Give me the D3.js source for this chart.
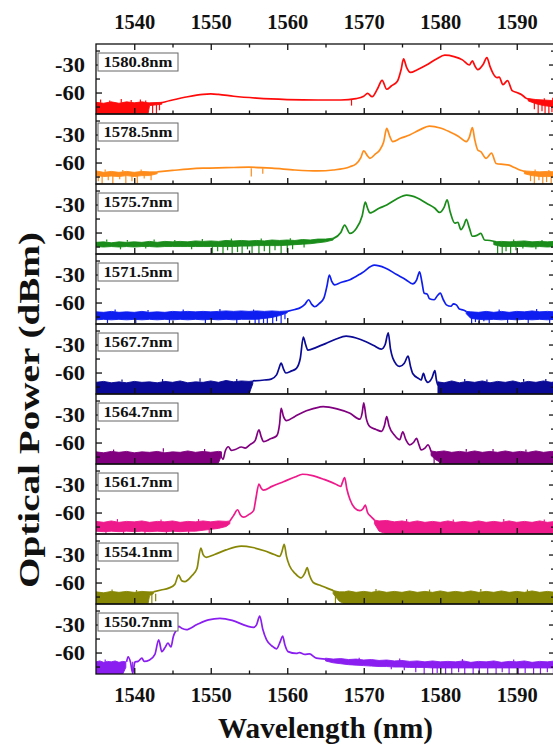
<!DOCTYPE html>
<html>
<head>
<meta charset="utf-8">
<script src="https://cdn.jsdelivr.net/npm/d3@7"></script>
<style>
  body { margin: 0; background: #fff; }
  svg { display: block; }
  text { font-family: "Liberation Serif", "Times New Roman", serif; font-weight: bold; fill: #111; }
</style>
</head>
<body>
<svg id="chart" width="553" height="746"></svg>
<script>
// Spectra per panel: smooth trace [nm, dBm], noise-floor bands [nm, upper dBm, lower dBm],
// and noise spikes drawn as thin strokes [nm, from dBm, to dBm].

const panelLabels = ["1580.8nm", "1578.5nm", "1575.7nm", "1571.5nm", "1567.7nm", "1564.7nm", "1561.7nm", "1554.1nm", "1550.7nm"];
const panelColors = ["#ff0a0a", "#ff8c1a", "#198c19", "#0f1ef0", "#0a0a96", "#800080", "#ee1a8c", "#878705", "#8a1ef0"];

const xMajorTicks = [1540, 1550, 1560, 1570, 1580, 1590];
const xMinorTicks = [1545, 1555, 1565, 1575, 1585];
const yMajorTicks = [-30, -60];
const yMinorTicks = [-15, -45, -75];

// 1580.8 nm
const trace1 = [[1543.5,-71],[1545,-68],[1547,-64.5],[1549,-62],[1550,-61.5],[1551,-62],[1553,-64],[1556,-66],[1560,-67.5],[1564,-68],[1567,-68],[1569,-66.5],[1570,-64],[1570.5,-61],[1571.1,-64.5],[1571.8,-56],[1572.4,-47],[1573,-56.5],[1573.6,-53],[1574.4,-48],[1574.9,-35],[1575.2,-24],[1575.6,-33],[1576.1,-38.5],[1577,-35.5],[1578.2,-30.5],[1579.5,-24],[1580.6,-20],[1581.8,-21.5],[1582.9,-25],[1583.8,-30.5],[1584.2,-26],[1584.5,-31],[1584.9,-35.5],[1585.6,-30],[1586.1,-22.5],[1586.5,-32],[1586.9,-39.5],[1587.4,-44],[1587.7,-43.5],[1588.2,-51.5],[1588.8,-47.3],[1589.4,-58],[1590,-60],[1590.6,-62],[1591.2,-66],[1592,-68]];
const noise1 = [
  [[1535,-70.5,-83],[1536,-71.5,-83],[1537,-70,-83],[1538,-71.5,-83],[1539,-70,-83],[1540,-71,-83],[1541,-70,-83],[1541.8,-71,-83],[1542,-71,-74],[1543.6,-70.5,-72.5]],
  [[1591.5,-66.5,-69],[1592.5,-67.5,-72],[1593.5,-68,-74],[1594.5,-68.5,-75],[1595,-68,-75]]
];
const spikes1 = [[1542.4,-73,-82],[1542.9,-73,-83],[1543.3,-72,-79],[1568.4,-68,-74],[1592.3,-71,-78],[1592.8,-71,-83],[1593.3,-73,-80],[1593.7,-73,-83],[1594.2,-74,-83],[1594.6,-74,-81],[1594.9,-74,-83],
  [1535.6,-71,-67.5],[1536.8,-71,-68.5],[1538.3,-71,-67],[1539.6,-71,-68],[1540.8,-71,-67.5],[1541.5,-71,-68.5],[1593.6,-69,-66],[1594.7,-69,-65.5]];

// 1578.5 nm
const trace2 = [[1543,-70],[1545,-68.5],[1547,-67],[1549,-66],[1552,-65.5],[1555,-65],[1558,-66],[1561,-68],[1564,-69],[1566,-68],[1568.2,-64.5],[1569,-61.5],[1569.6,-55],[1570,-47.5],[1570.5,-53],[1570.8,-55.5],[1571.5,-51],[1572.1,-46.5],[1572.6,-38],[1573,-23.5],[1573.4,-32],[1573.8,-37.5],[1574.8,-34],[1576,-30.5],[1577.3,-25],[1578.6,-21],[1580,-23],[1581.2,-27],[1582.4,-32],[1583.4,-37.5],[1583.8,-33],[1584.2,-22.5],[1584.5,-35],[1584.9,-46.5],[1585.3,-48.4],[1586,-55.5],[1586.7,-50],[1587.3,-61],[1588.2,-62],[1589,-62.7],[1589.6,-65],[1590.4,-68],[1591.2,-70]];
const noise2 = [
  [[1535,-69,-74],[1536,-70.5,-75],[1537,-69.5,-74.5],[1538,-70.5,-75],[1539,-69.5,-74],[1540,-70.5,-75],[1541,-69.5,-74],[1542,-70,-74],[1543,-70,-72]],
  [[1591,-69,-72],[1592,-69.5,-74],[1593,-70,-75],[1594,-69.5,-75],[1595,-70,-75]]
];
const spikes2 = [[1535.3,-73,-80],[1535.8,-73,-83],[1536.6,-73,-79],[1537.2,-73,-83],[1538.1,-73,-78],[1538.9,-73,-82],[1539.7,-73,-80],[1540.4,-73,-83],[1541.3,-73,-77],[1542.2,-73,-79],[1555.3,-66,-75],[1556.8,-66,-72],[1591.8,-73,-80],[1592.3,-73,-83],[1592.9,-73,-79],[1593.4,-73,-83],[1593.9,-73,-81],[1594.5,-73,-83],
  [1536.2,-70,-67.5],[1538.5,-70,-68],[1540.9,-70,-67.5],[1592.4,-70,-67.5],[1594.2,-70,-68]];

// 1575.7 nm
const trace3 = [[1566,-66.5],[1567,-60],[1567.5,-52],[1568.2,-61],[1569,-56],[1569.8,-42],[1570.2,-27.5],[1570.5,-34],[1570.8,-39],[1572,-34],[1573,-30.5],[1574.3,-24],[1575.6,-20],[1577,-23],[1578.2,-28.7],[1579.3,-34],[1579.9,-38.5],[1580.5,-33],[1580.9,-25],[1581.3,-38],[1581.9,-50],[1582.3,-49],[1582.7,-57],[1583.1,-52],[1583.4,-46],[1583.8,-55],[1584.2,-64],[1584.8,-63],[1585.3,-61],[1585.8,-68],[1586.5,-68.5],[1587.3,-70]];
const noise3 = [
  [[1535,-70.5,-75],[1536,-70,-75.5],[1537,-71,-75],[1538,-70,-75.5],[1539,-70.5,-75],[1540,-70,-75.5],[1541,-70.5,-75],[1542,-69.5,-75],[1543,-70.5,-75.5],[1544,-69.5,-75],[1545,-70,-75],[1546,-69.5,-75],[1547,-70,-75],[1548,-69,-75],[1549,-69.5,-75],[1550,-69,-75],[1551,-69.5,-75],[1552,-68.5,-75],[1553,-69,-75],[1554,-68.5,-74.5],[1555,-69,-74.5],[1556,-68.5,-74],[1557,-69,-74],[1558,-68,-74],[1559,-68.5,-74],[1560,-68,-73.5],[1561,-68.5,-73],[1562,-67.5,-72.5],[1563,-68,-72],[1564,-67,-71],[1565,-67,-70],[1566,-66,-68]],
  [[1587,-70,-73],[1588,-69.5,-75],[1589,-70,-75],[1590,-69.5,-75],[1591,-69,-75],[1592,-70,-75.5],[1593,-69.5,-75],[1594,-70,-75.5],[1595,-69.5,-75]]
];
const spikes3 = [[1538.2,-74,-78],[1541.5,-74,-77],[1547.5,-74,-78],[1550.2,-74,-82],[1550.9,-74,-80],[1551.6,-74,-83],[1552.2,-74,-79],[1552.8,-74,-83],[1553.5,-74,-81],[1554.1,-74,-83],[1554.8,-74,-78],[1555.4,-74,-82],[1556.3,-73,-83],[1557,-73,-80],[1557.7,-73,-83],[1558.4,-73,-79],[1559.2,-73,-83],[1560,-73,-81],[1560.7,-72,-78],[1562.2,-72,-76],[1587.5,-74,-83],[1588.1,-74,-83],[1588.6,-74,-80],[1589.2,-74,-83],[1589.9,-74,-79],[1590.8,-74,-77],[1592.5,-74,-78],
  [1536.4,-70,-67.5],[1539.1,-70,-68],[1542.6,-70,-67.5],[1545.3,-70,-68],[1548.9,-69.5,-67],[1552.7,-69,-66.5],[1556.6,-69,-66.5],[1560.4,-68.5,-66],[1589.6,-70,-67.5],[1593.3,-70,-68]];

// 1571.5 nm
const trace4 = [[1560,-69.5],[1561,-67.5],[1561.6,-66],[1562.3,-62],[1562.8,-57],[1563.2,-62],[1563.6,-64.5],[1564.2,-61],[1564.8,-55],[1565.2,-42],[1565.5,-30.5],[1565.8,-37],[1566.2,-41],[1567,-38.5],[1568.2,-35.5],[1569.8,-28],[1571.4,-20],[1572.8,-23],[1574.3,-30],[1575.5,-35.5],[1576.4,-40],[1576.9,-36],[1577.3,-27],[1577.6,-38],[1577.9,-50],[1578.3,-51],[1578.6,-56],[1579.2,-57],[1579.6,-53],[1580,-50],[1580.4,-57],[1580.8,-62.5],[1581.4,-64],[1581.7,-61.5],[1582.1,-62.5],[1582.5,-67],[1583,-68],[1583.4,-69.5]];
const noise4 = [
  [[1535,-70,-78.5],[1536,-70.5,-78],[1537,-69.5,-78.5],[1538,-70.5,-78],[1539,-70,-78.5],[1540,-70.5,-78],[1541,-69.5,-78.5],[1542,-70.5,-78],[1543,-70,-78.5],[1544,-70.5,-78],[1545,-69.5,-78.5],[1546,-70,-78],[1547,-69.5,-78.5],[1548,-70,-78],[1549,-69.5,-78.5],[1550,-70,-78],[1551,-69.5,-78.5],[1552,-69,-78],[1553,-69.5,-78.5],[1554,-69,-78],[1555,-69.5,-78],[1556,-69,-78],[1557,-69.5,-77],[1558,-69,-76],[1559,-69.5,-74],[1560,-69,-71]],
  [[1583.4,-69.5,-72],[1584,-70,-77],[1585,-70.5,-78],[1586,-69.5,-78.5],[1587,-70.5,-78],[1588,-69.5,-78.5],[1589,-70.5,-78],[1590,-69.5,-78.5],[1591,-70,-78],[1592,-69,-78.5],[1593,-70,-78],[1594,-69.5,-78.5],[1595,-70,-78]]
];
const spikes4 = [[1536.5,-77,-82],[1540.2,-77,-82],[1544.6,-77,-82],[1549.3,-77,-82],[1553.4,-77,-83],[1555.8,-77,-83],[1556.3,-77,-83],[1556.9,-76,-82],[1557.4,-76,-83],[1558.1,-75,-83],[1558.6,-74,-80],[1559.2,-73,-83],[1559.7,-72,-78],[1584.1,-76,-83],[1584.6,-76,-81],[1585.1,-77,-83],[1585.7,-77,-80],[1586.4,-77,-82],[1588.8,-77,-82],[1591.5,-77,-82],[1594.3,-77,-82],
  [1537.5,-70,-67.5],[1541.8,-70,-68],[1546.4,-70,-67.5],[1551.2,-69.5,-67],[1555.6,-69.5,-67.5],[1587.7,-70,-67.5],[1592.6,-69.5,-67]];

// 1567.7 nm
const trace5 = [[1555.5,-69],[1557,-68],[1557.9,-67],[1558.6,-62.5],[1558.9,-56],[1559.2,-50],[1559.5,-56],[1559.8,-60.5],[1560.5,-58.5],[1561.2,-55.5],[1561.7,-45],[1562.1,-22],[1562.4,-30],[1562.7,-36],[1563.8,-33],[1565.1,-28.7],[1566.4,-24],[1567.7,-21],[1569,-23],[1570.3,-27],[1571.3,-31],[1572.3,-35],[1572.8,-30],[1573.2,-17.5],[1573.5,-35],[1573.8,-44.5],[1574.7,-53.5],[1575.3,-50],[1575.8,-42.5],[1576.1,-53],[1576.4,-61],[1577.2,-66.5],[1577.5,-68],[1577.8,-61],[1578.1,-68],[1578.4,-70.5],[1578.9,-66],[1579.3,-58],[1579.5,-68],[1579.7,-74]];
const noise5 = [
  [[1535,-70.5,-83],[1536,-69.5,-83],[1537,-71,-83],[1538,-70,-83],[1539,-71,-83],[1540,-69.5,-83],[1541,-70.5,-83],[1542,-70,-83],[1543,-71,-83],[1544,-69.5,-83],[1545,-70.5,-83],[1546,-69,-83],[1547,-71,-83],[1548,-70,-83],[1549,-70.5,-83],[1550,-69,-83],[1551,-70.5,-83],[1552,-68.5,-83],[1553,-70,-83],[1554,-69,-83],[1555,-69.5,-83],[1555.5,-69,-72]],
  [[1579.7,-70,-83],[1580.5,-71,-83],[1581.5,-69,-83],[1582.5,-71,-83],[1583.5,-69.5,-83],[1584.5,-70.5,-83],[1585.5,-69,-83],[1586.5,-71,-83],[1587.5,-69.5,-83],[1588.5,-70.5,-83],[1589.5,-69,-83],[1590.5,-71,-83],[1591.5,-69.5,-83],[1592.5,-70.5,-83],[1593.5,-69,-83],[1594.5,-70.5,-83],[1595,-70,-83]]
];
const spikes5 = [[1548.6,-70,-66],[1553.4,-70,-67],[1583.2,-70,-67],[1590.9,-70,-67],[1538.4,-70,-67.5],[1543.7,-70,-67],[1586.1,-70,-67.5],[1593.8,-70,-67]];

// 1564.7 nm
const trace6 = [[1551.2,-70],[1551.6,-78],[1551.9,-69],[1552.3,-64.5],[1552.7,-68.5],[1553.2,-67.5],[1554,-64.8],[1554.5,-66],[1555.1,-62.5],[1555.8,-58],[1556.3,-46.5],[1556.6,-54],[1556.9,-59],[1557.8,-56],[1558.6,-53],[1559,-40],[1559.2,-23.3],[1559.5,-32],[1559.9,-36.5],[1561,-32],[1562.5,-26],[1564.2,-22],[1564.7,-21.5],[1566.5,-24],[1568.2,-28.7],[1569.5,-35],[1569.8,-28],[1570,-17.5],[1570.3,-33],[1570.8,-43],[1571.6,-46],[1572.3,-48],[1572.7,-42],[1573,-32.3],[1573.3,-42],[1574,-52],[1574.7,-57],[1575.1,-48.5],[1575.5,-57],[1576,-62.5],[1576.5,-60],[1576.9,-55.5],[1577.2,-62],[1577.5,-68],[1578,-66],[1578.4,-62.5],[1578.8,-69.5]];
const noise6 = [
  [[1535,-70,-83],[1536,-71,-83],[1537,-69.5,-83],[1538,-70.5,-83],[1539,-69.5,-83],[1540,-71,-83],[1541,-70,-83],[1542,-70.5,-83],[1543,-69.5,-83],[1544,-71,-83],[1545,-70,-83],[1546,-70.5,-83],[1547,-69,-83],[1548,-70.5,-83],[1549,-69.5,-83],[1550,-70.5,-83],[1551,-69.5,-82],[1551.4,-70,-74]],
  [[1578.8,-69,-74],[1579.5,-70,-79],[1580.5,-69,-83],[1581.5,-70.5,-83],[1582.5,-69.5,-83],[1583.5,-70.5,-83],[1584.5,-69,-83],[1585.5,-70.5,-83],[1586.5,-69.5,-83],[1587.5,-70.5,-83],[1588.5,-69,-83],[1589.5,-70.5,-83],[1590.5,-69.5,-83],[1591.5,-70.5,-83],[1592.5,-69,-83],[1593.5,-70.5,-83],[1594.5,-69.5,-83],[1595,-70,-83]]
];
const spikes6 = [[1579.2,-74,-83],[1579.9,-76,-83],[1543.8,-70,-66],[1549.2,-70,-67],[1586.9,-70,-67],[1537.3,-70,-67.5],[1583.4,-70,-67],[1591.2,-70,-67.5]];

// 1561.7 nm
const trace7 = [[1552.5,-69],[1553,-63],[1553.5,-57],[1553.9,-63],[1554.3,-65],[1555,-62],[1555.6,-58],[1555.9,-45],[1556.3,-29.5],[1556.6,-34],[1556.9,-36],[1558,-32],[1559.5,-27],[1561,-22],[1562,-19],[1563.3,-20.5],[1564.8,-24.5],[1566.3,-29.5],[1567,-32],[1567.2,-28],[1567.5,-22.5],[1567.8,-35],[1568.2,-46],[1568.8,-55],[1569.5,-58],[1569.9,-56],[1570.2,-52],[1570.5,-60],[1570.9,-64],[1571.4,-68]];
const noise7 = [
  [[1535,-69.5,-80],[1536,-70.5,-80.5],[1537,-69,-80],[1538,-70.5,-80.5],[1539,-69.5,-80],[1540,-70,-80.5],[1541,-69,-80],[1542,-70.5,-80.5],[1543,-69.5,-80],[1544,-70,-80.5],[1545,-69,-80],[1546,-70.5,-80.5],[1547,-69.5,-80],[1548,-70,-80],[1549,-69,-79],[1550,-70,-78],[1551,-69,-77],[1552,-69.5,-75],[1552.5,-69,-72]],
  [[1571.4,-68,-72],[1572,-69,-80],[1573,-68.5,-83],[1574,-70,-83],[1575,-69,-83],[1576,-70.5,-83],[1577,-69,-83],[1578,-70.5,-83],[1579,-69.5,-83],[1580,-70.5,-83],[1581,-69,-83],[1582,-70.5,-83],[1583,-69.5,-83],[1584,-70.5,-83],[1585,-69,-83],[1586,-70.5,-83],[1587,-69.5,-83],[1588,-70.5,-83],[1589,-69,-83],[1590,-70.5,-83],[1591,-69.5,-83],[1592,-70.5,-83],[1593,-69,-83],[1594,-70.5,-83],[1595,-69.5,-83]]
];
const spikes7 = [[1536.3,-79,-83],[1538.6,-79,-83],[1541.4,-79,-83],[1544.2,-79,-83],[1547.1,-79,-83],[1549.8,-77,-82],
  [1537.8,-70,-67],[1543.5,-70,-67.5],[1548.4,-70,-67],[1575.6,-70,-67],[1581.7,-70,-67.5],[1588.3,-70,-67],[1593.6,-70,-67.5]];

// 1554.1 nm
const trace8 = [[1542.5,-70],[1543.5,-68],[1544.5,-66],[1545.3,-62],[1545.8,-52],[1546.2,-58],[1546.6,-59],[1547.5,-53],[1548.2,-45],[1548.7,-23],[1549,-30],[1549.4,-33],[1550.5,-30],[1552,-25],[1554,-21],[1555.5,-22.5],[1557,-26],[1558.3,-30],[1559,-32],[1559.3,-27],[1559.6,-19],[1559.9,-32],[1560.3,-42],[1561,-50],[1561.8,-55],[1562.3,-50],[1562.6,-44],[1562.9,-52],[1563.4,-60],[1564.3,-63],[1565.2,-66],[1566,-68.5]];
const noise8 = [
  [[1535,-70,-83],[1536,-71,-83],[1537,-69.5,-83],[1538,-70.5,-83],[1539,-69.5,-83],[1540,-70.5,-83],[1541,-69.5,-83],[1541.8,-70,-83],[1542,-70,-74],[1542.5,-70,-72]],
  [[1566,-68.5,-72],[1566.8,-70,-80],[1567.5,-70,-83],[1568,-69,-83],[1569,-70.5,-83],[1570,-69.5,-83],[1571,-70.5,-83],[1572,-69,-83],[1573,-70.5,-83],[1574,-69.5,-83],[1575,-70.5,-83],[1576,-69,-83],[1577,-70.5,-83],[1578,-69.5,-83],[1579,-70.5,-83],[1580,-69,-83],[1581,-70.5,-83],[1582,-69.5,-83],[1583,-70.5,-83],[1584,-69,-83],[1585,-70.5,-83],[1586,-69.5,-83],[1587,-70.5,-83],[1588,-69,-83],[1589,-70.5,-83],[1590,-69.5,-83],[1591,-70.5,-83],[1592,-69,-83],[1593,-70.5,-83],[1594,-69.5,-83],[1595,-70.5,-83]]
];
const spikes8 = [[1542.3,-72,-83],[1542.8,-72,-80],[1566.3,-71,-83],
  [1537.1,-70,-67.5],[1540.3,-70,-68],[1571.6,-70,-67],[1578.6,-70,-67.5],[1585.3,-70,-67],[1591.4,-70,-67.5]];

// 1550.7 nm
const trace9 = [[1539,-70],[1539.2,-64.5],[1539.5,-70],[1539.8,-82],[1540.1,-70],[1540.5,-69.5],[1541,-66],[1541.3,-69.5],[1542,-68],[1542.7,-62],[1543.2,-46.5],[1543.6,-59],[1544,-55],[1544.4,-50],[1544.8,-54],[1545.1,-43],[1545.5,-36],[1545.8,-32],[1546.2,-34],[1546.8,-35.5],[1548.2,-30],[1549.7,-25],[1551.2,-23.3],[1552.8,-25.5],[1554.7,-31.5],[1555.6,-33],[1556,-30],[1556.4,-21],[1556.8,-35],[1557.3,-46.5],[1558,-53],[1558.6,-56],[1559.1,-48],[1559.4,-42.3],[1559.7,-52],[1560.1,-59],[1561.2,-61],[1561.6,-60],[1562.3,-62],[1562.9,-61.5],[1563.8,-66],[1565,-67]];
const noise9 = [
  [[1535,-70,-83],[1535.5,-69,-83],[1536,-70.5,-83],[1536.5,-69.5,-83],[1537,-70,-83],[1537.5,-69,-83],[1538,-70.5,-83],[1538.5,-69.5,-83],[1538.9,-70,-76]],
  [[1565,-66,-69],[1566,-67,-71],[1567,-66.5,-72],[1568,-67.5,-73],[1569,-67,-73.5],[1570,-68,-74],[1571,-67.5,-74.5],[1572,-68.5,-75],[1573,-68,-75],[1574,-69,-75.5],[1575,-68.5,-75.5],[1576,-69.5,-76],[1577,-69,-76],[1578,-70,-76],[1579,-69,-76.5],[1580,-70,-76.5],[1581,-69.5,-76.5],[1582,-70,-76.5],[1583,-69,-76.5],[1584,-70.5,-76.5],[1585,-69.5,-76.5],[1586,-70,-76.5],[1587,-69,-76.5],[1588,-70.5,-76.5],[1589,-69.5,-76.5],[1590,-70,-76.5],[1591,-69,-76.5],[1592,-70.5,-76.5],[1593,-69.5,-76.5],[1594,-70,-76.5],[1595,-69,-76.5]]
];
const spikes9 = [[1539.8,-70,-83],[1573.6,-75,-78],[1575.3,-75,-79],[1576.8,-75,-81],[1577.9,-75,-83],[1579,-75,-83],[1579.6,-75,-82],[1580.7,-75,-83],[1581.5,-75,-83],[1582.4,-75,-81],[1583.2,-75,-83],[1584.3,-75,-83],[1585.1,-75,-82],[1586.2,-75,-83],[1587.3,-75,-83],[1588.1,-75,-81],[1589,-75,-83],[1590.2,-75,-83],[1591.1,-75,-82],[1592.2,-75,-83],[1593.1,-75,-83],[1594,-75,-81],[1594.8,-75,-83],
  [1536.2,-70,-67.5],[1569.4,-68,-65.5],[1574.7,-69,-66.5],[1582.9,-70,-67],[1589.6,-70,-67.5]];

const traces = [trace1, trace2, trace3, trace4, trace5, trace6, trace7, trace8, trace9];
const noises = [noise1, noise2, noise3, noise4, noise5, noise6, noise7, noise8, noise9];
const spikes = [spikes1, spikes2, spikes3, spikes4, spikes5, spikes6, spikes7, spikes8, spikes9];

// ---- Layout
const plotLeft = 96, plotRight = 555, plotTop = 44, panelH = 70;
const svg = d3.select("#chart");

const x = d3.scaleLinear().domain([1535, 1595]).range([plotLeft, plotRight]);
const y = d3.scaleLinear().domain([-83, -8]).range([panelH, 0]);

const line = d3.line().x(d => x(d[0])).y(d => y(d[1])).curve(d3.curveMonotoneX);
const band = d3.area().x(d => x(d[0])).y0(d => y(d[2])).y1(d => y(d[1])).curve(d3.curveLinear);

const nPanels = panelLabels.length;

panelLabels.forEach((label, i) => {
  const g = svg.append("g").attr("transform", `translate(0,${plotTop + i * panelH})`);
  const clipId = "clip" + i;
  g.append("clipPath").attr("id", clipId)
    .append("rect").attr("x", plotLeft).attr("y", 0).attr("width", plotRight - plotLeft).attr("height", panelH);

  const color = panelColors[i];
  const plot = g.append("g").attr("clip-path", `url(#${clipId})`);
  noises[i].forEach(seg => {
    plot.append("path").attr("d", band(seg))
      .attr("fill", color).attr("stroke", color).attr("stroke-width", 0.9);
  });
  plot.selectAll("line.spike").data(spikes[i]).join("line").attr("class", "spike")
    .attr("x1", d => x(d[0])).attr("x2", d => x(d[0]))
    .attr("y1", d => y(d[1])).attr("y2", d => y(d[2]))
    .attr("stroke", color).attr("stroke-width", 1.2);
  plot.append("path").attr("d", line(traces[i]))
    .attr("fill", "none").attr("stroke", color).attr("stroke-width", 1.7)
    .attr("stroke-linejoin", "round");

  // inward ticks: bottom on every panel, top only on the first
  const addAxis = (axis, tr, withLabels) => {
    const a = g.append("g").attr("transform", tr).call(axis);
    a.select(".domain").remove();
    a.selectAll("line").attr("stroke", "#111").attr("stroke-width", 1.3);
    if (!withLabels) a.selectAll("text").remove();
    return a;
  };
  const styleX = sel => sel.selectAll("text").attr("font-size", 22).attr("textLength", 41).attr("lengthAdjust", "spacingAndGlyphs");
  const styleY = sel => sel.selectAll("text").attr("font-size", 22).attr("textLength", 30).attr("lengthAdjust", "spacingAndGlyphs");
  const isLast = i === nPanels - 1;
  styleX(addAxis(d3.axisBottom(x).tickValues(xMajorTicks).tickSize(-6).tickPadding(12).tickFormat(d3.format("d")), `translate(0,${panelH})`, isLast));
  addAxis(d3.axisBottom(x).tickValues(xMinorTicks).tickSize(-3.5), `translate(0,${panelH})`, false);
  if (i === 0) {
    styleX(addAxis(d3.axisTop(x).tickValues(xMajorTicks).tickSize(-6).tickPadding(15).tickFormat(d3.format("d")), "translate(0,0)", true));
    addAxis(d3.axisTop(x).tickValues(xMinorTicks).tickSize(-3.5), "translate(0,0)", false);
  }
  styleY(addAxis(d3.axisLeft(y).tickValues(yMajorTicks).tickSize(-6).tickPadding(11).tickFormat(d => String(d)), `translate(${plotLeft},0)`, true));
  addAxis(d3.axisLeft(y).tickValues(yMinorTicks).tickSize(-4), `translate(${plotLeft},0)`, false);
  addAxis(d3.axisRight(y).tickValues(yMajorTicks).tickSize(-6), `translate(${plotRight},0)`, false);
  addAxis(d3.axisRight(y).tickValues(yMinorTicks).tickSize(-4), `translate(${plotRight},0)`, false);

  g.append("rect").attr("x", plotLeft).attr("y", 0).attr("width", plotRight - plotLeft).attr("height", panelH)
    .attr("fill", "none").attr("stroke", "#111").attr("stroke-width", 1.3);

  // wavelength tag
  g.append("rect").attr("x", plotLeft + 2).attr("y", 9).attr("width", 80).attr("height", 18)
    .attr("fill", "#fff").attr("stroke", "#666").attr("stroke-width", 1);
  g.append("text").attr("x", plotLeft + 42).attr("y", 22.7).attr("text-anchor", "middle")
    .attr("font-size", 14.5).attr("textLength", 69).attr("lengthAdjust", "spacingAndGlyphs").text(label);
});

svg.append("text").attr("x", (plotLeft + plotRight) / 2).attr("y", 738).attr("text-anchor", "middle")
  .attr("font-size", 30).attr("textLength", 215).attr("lengthAdjust", "spacingAndGlyphs")
  .text("Wavelength (nm)");

svg.append("text").attr("transform", "translate(39,410) rotate(-90)").attr("text-anchor", "middle")
  .attr("font-size", 29).attr("textLength", 356).attr("lengthAdjust", "spacingAndGlyphs")
  .text("Optical Power (dBm)");
</script>
</body>
</html>
